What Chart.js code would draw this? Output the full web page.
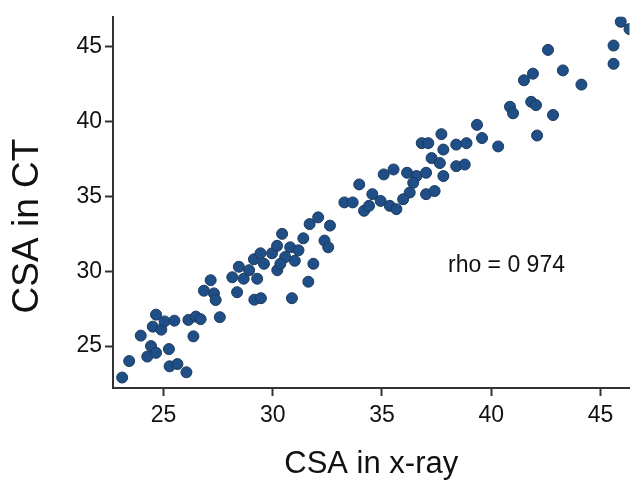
<!DOCTYPE html>
<html>
<head>
<meta charset="utf-8">
<script src="https://cdn.jsdelivr.net/npm/chart.js@4.4.1/dist/chart.umd.min.js"></script>
<style>
  body { margin: 0; background: #fff; }
</style>
</head>
<body>
<canvas id="myChart" width="636" height="490"></canvas>
<script>
// values
const csaXray = [
  23.11, 23.43, 23.96, 24.26, 24.43, 24.66, 24.66, 24.51, 24.90, 25.05,
  25.50, 25.25, 25.28, 25.64, 26.05, 26.14, 26.48, 26.70, 26.37, 27.16,
  26.85, 27.31, 27.39, 27.58, 28.15, 28.45, 28.37, 28.67, 29.14, 29.44,
  29.16, 29.46, 28.92, 29.60, 29.29, 30.21, 29.97, 30.20, 30.43, 30.80,
  31.18, 30.57, 31.01, 30.35, 31.40, 31.86, 31.63, 30.88, 31.69, 32.08,
  32.62, 32.37, 32.54, 33.28, 33.66, 33.96, 34.18, 34.41, 34.56, 34.94,
  35.08, 40.86, 41.00, 39.35, 39.58, 40.32, 37.72, 36.82, 37.12, 37.81,
  38.40, 38.87, 37.27, 37.65, 38.40, 38.79, 37.81, 35.53, 36.15, 36.58,
  37.02, 36.43, 37.02, 37.41, 36.27, 35.97, 35.36, 35.66, 45.93, 46.33,
  45.60, 45.60, 42.60, 43.28, 41.91, 41.50, 44.13, 41.83, 42.05, 42.83,
  42.10
];
const csaCT = [
  22.90, 24.00, 25.70, 24.30, 25.00, 24.55, 27.10, 26.30, 26.10, 26.65,
  26.70, 24.80, 23.65, 23.80, 23.25, 26.75, 26.97, 26.80, 25.65, 29.40,
  28.70, 28.52, 28.08, 26.93, 29.60, 30.30, 28.60, 29.50, 30.80, 31.20,
  28.10, 28.20, 30.07, 30.50, 29.50, 30.07, 31.20, 31.70, 32.50, 31.60,
  31.40, 30.95, 30.70, 30.50, 32.20, 30.50, 29.30, 28.20, 33.15, 33.60,
  33.05, 32.05, 31.60, 34.60, 34.60, 35.80, 34.04, 34.37, 35.15, 34.70,
  36.47, 40.99, 40.55, 39.78, 38.90, 38.34, 39.16, 38.56, 38.56, 38.13,
  38.46, 38.56, 37.56, 37.23, 37.02, 37.13, 36.36, 36.80, 36.58, 36.36,
  36.58, 35.91, 35.15, 35.36, 35.26, 34.81, 34.37, 34.15, 46.67, 46.18,
  45.08, 43.86, 44.79, 43.42, 43.20, 42.76, 42.47, 41.32, 41.10, 40.44,
  39.07
];
const xTicks = [25, 30, 35, 40, 45];
const yTicks = [25, 30, 35, 40, 45];
const xLabel = 'CSA in x-ray';
const yLabel = 'CSA in CT';
const rhoText = 'rho = 0 974';
const rhoAt = [40.7, 30.4];

const fontFam = '"Liberation Sans", Arial, Helvetica, sans-serif';
const axisColor = '#333';
const textColor = '#111';

const points = csaXray.map((x, i) => ({ x: x, y: csaCT[i] }));

// y title and the rho note
const extraText = {
  id: 'extraText',
  afterDraw(chart) {
    const ctx = chart.ctx;
    const sx = chart.scales.x, sy = chart.scales.y;
    ctx.save();
    ctx.fillStyle = textColor;
    ctx.textAlign = 'center';
    ctx.textBaseline = 'middle';
    ctx.font = '23px ' + fontFam;
    ctx.fillText(rhoText, sx.getPixelForValue(rhoAt[0]), sy.getPixelForValue(rhoAt[1]));
    ctx.translate(28, 226);
    ctx.rotate(-Math.PI / 2);
    ctx.font = '37px ' + fontFam;
    ctx.fillText(yLabel, 0, 0);
    ctx.restore();
  }
};

var ctx = document.getElementById('myChart').getContext('2d');
var chart = new Chart(ctx, {
  type: 'scatter',
  data: {
    datasets: [{
      data: points,
      backgroundColor: '#1f4f86',
      borderColor: '#1b3a5e',
      borderWidth: 1,
      pointRadius: 5.5,
      pointHoverRadius: 5.5
    }]
  },
  options: {
    responsive: false,
    animation: false,
    devicePixelRatio: 1,
    layout: { padding: { top: 13, right: 0, bottom: 0, left: 0 } },
    plugins: { legend: { display: false }, tooltip: { enabled: false } },
    scales: {
      x: {
        type: 'linear',
        min: 22.69,
        max: 46.33,
        afterBuildTicks: s => { s.ticks = xTicks.map(v => ({ value: v })); },
        afterFit: s => { s.height = 102; },
        grid: { drawOnChartArea: false, drawTicks: true, tickLength: 8, tickColor: axisColor, tickWidth: 2 },
        border: { display: true, color: axisColor, width: 2 },
        ticks: { color: textColor, font: { family: fontFam, size: 23 }, padding: 6, maxRotation: 0 },
        title: { display: true, text: xLabel, color: textColor, font: { family: fontFam, size: 31 }, padding: { top: 0, bottom: 7 } }
      },
      y: {
        type: 'linear',
        min: 22.2,
        max: 47.0,
        afterBuildTicks: s => { s.ticks = yTicks.map(v => ({ value: v })); },
        afterFit: s => { s.width = 113; },
        grid: { drawOnChartArea: false, drawTicks: true, tickLength: 8, tickColor: axisColor, tickWidth: 2 },
        border: { display: true, color: axisColor, width: 2 },
        ticks: { color: textColor, font: { family: fontFam, size: 23 }, padding: 3 }
      }
    }
  },
  plugins: [extraText]
});
</script>
</body>
</html>
